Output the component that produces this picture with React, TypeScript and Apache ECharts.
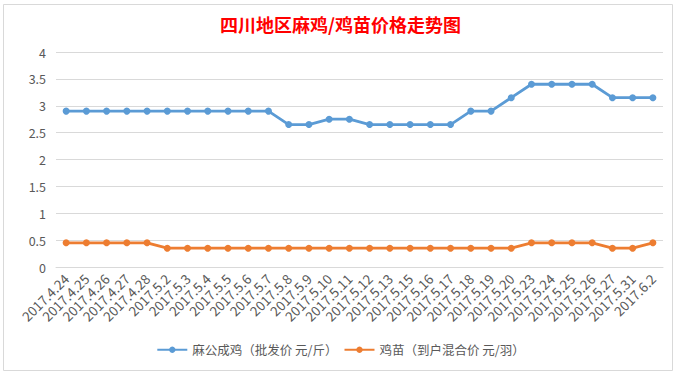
import React, { useEffect, useRef } from "react";
import * as echarts from "echarts";

const categories = [
  "2017.4.24", "2017.4.25", "2017.4.26", "2017.4.27", "2017.4.28",
  "2017.5.2", "2017.5.3", "2017.5.4", "2017.5.5", "2017.5.6", "2017.5.7",
  "2017.5.8", "2017.5.9", "2017.5.10", "2017.5.11", "2017.5.12", "2017.5.13",
  "2017.5.15", "2017.5.16", "2017.5.17", "2017.5.18", "2017.5.19", "2017.5.20",
  "2017.5.23", "2017.5.24", "2017.5.25", "2017.5.26", "2017.5.27", "2017.5.31", "2017.6.2",
];

const chickenPrice = [
  2.9, 2.9, 2.9, 2.9, 2.9, 2.9, 2.9, 2.9, 2.9, 2.9, 2.9,
  2.65, 2.65, 2.75, 2.75, 2.65, 2.65, 2.65, 2.65, 2.65,
  2.9, 2.9, 3.15, 3.4, 3.4, 3.4, 3.4, 3.15, 3.15, 3.15,
];

const chickPrice = [
  0.45, 0.45, 0.45, 0.45, 0.45,
  0.35, 0.35, 0.35, 0.35, 0.35, 0.35, 0.35, 0.35, 0.35, 0.35, 0.35, 0.35, 0.35,
  0.35, 0.35, 0.35, 0.35, 0.35,
  0.45, 0.45, 0.45, 0.45, 0.35, 0.35, 0.45,
];

const seriesNames = ["麻公成鸡（批发价 元/斤）", "鸡苗（到户混合价 元/羽）"];
const titleText = "四川地区麻鸡/鸡苗价格走势图";

export default function App() {
  const ref = useRef<HTMLDivElement>(null);
  useEffect(() => {
    if (!ref.current) return;
    const chart = echarts.init(ref.current, undefined, { renderer: "svg" });
    const font = "'Noto Sans CJK SC', 'Microsoft YaHei', sans-serif";
    chart.setOption({
      animation: false,
      backgroundColor: "#ffffff",
      title: {
        text: titleText,
        left: "center",
        top: 10,
        textStyle: { color: "#ff0000", fontSize: 18, fontWeight: "bold", fontFamily: font },
      },
      graphic: [
        {
          type: "rect",
          shape: { x: 3.5, y: 4.5, width: 669, height: 366 },
          style: { fill: "none", stroke: "#d9d9d9", lineWidth: 1 },
          silent: true,
        },
      ],
      legend: {
        bottom: 13,
        left: "center",
        itemWidth: 30,
        itemHeight: 8,
        itemGap: 6,
        textStyle: { color: "#595959", fontSize: 12.5, fontFamily: font },
        data: seriesNames,
      },
      grid: { left: 56, right: 18, top: 52, bottom: 107 },
      xAxis: {
        type: "category",
        data: categories,
        boundaryGap: true,
        axisLine: { lineStyle: { color: "#d9d9d9" } },
        axisTick: { show: false },
        axisLabel: {
          interval: 0,
          rotate: 45,
          color: "#595959",
          fontSize: 13.5,
          fontFamily: font,
          margin: 9,
        },
      },
      yAxis: {
        type: "value",
        min: 0,
        max: 4,
        interval: 0.5,
        axisLine: { show: false },
        axisTick: { show: false },
        splitLine: { lineStyle: { color: "#d9d9d9" } },
        axisLabel: { color: "#595959", fontSize: 12.5, fontFamily: font, margin: 10 },
      },
      series: [
        {
          name: seriesNames[0],
          type: "line",
          data: chickenPrice,
          symbol: "circle",
          symbolSize: 7,
          lineStyle: { width: 2.8, color: "#5b9bd5" },
          itemStyle: { color: "#5b9bd5" },
        },
        {
          name: seriesNames[1],
          type: "line",
          data: chickPrice,
          symbol: "circle",
          symbolSize: 7,
          lineStyle: { width: 2.8, color: "#ed7d31" },
          itemStyle: { color: "#ed7d31" },
        },
      ],
    });
    return () => chart.dispose();
  }, []);
  return (
    <div
      ref={ref}
      style={{ position: "fixed", left: 0, top: 0, width: 681, height: 374, background: "#fff" }}
    />
  );
}
